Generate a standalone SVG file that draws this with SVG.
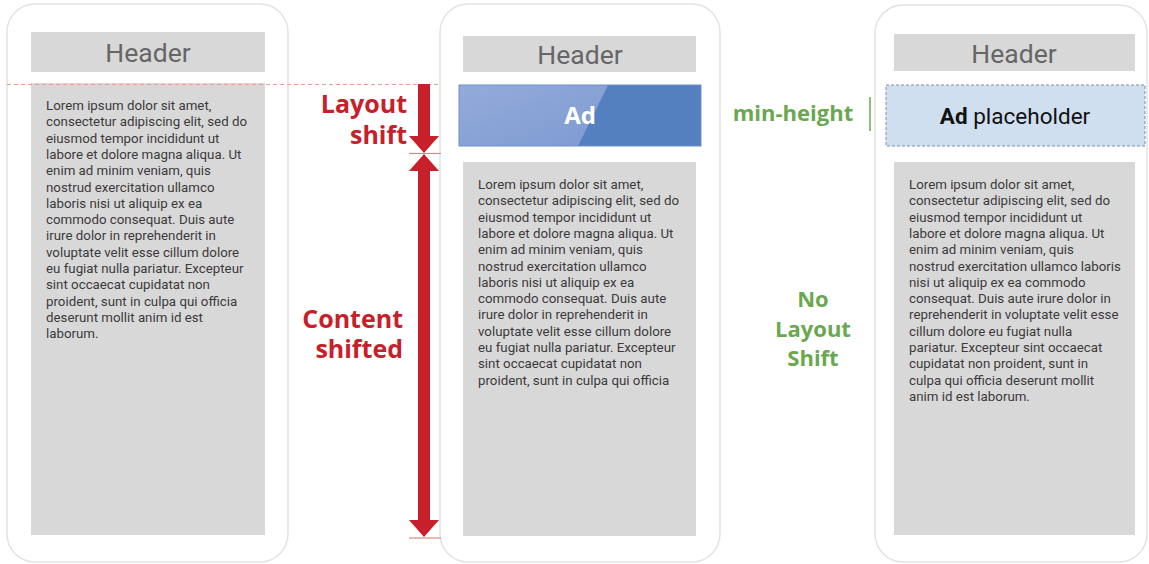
<svg xmlns="http://www.w3.org/2000/svg" width="1149" height="564" viewBox="0 0 1149 564">
  <defs>
    <linearGradient id="adLeft" x1="0" y1="0" x2="1" y2="1">
      <stop offset="0" stop-color="#94aadb"/>
      <stop offset="1" stop-color="#7e9bd1"/>
    </linearGradient>
  </defs>
  <style>
    .phone { fill: #ffffff; stroke: #e3e3e3; stroke-width: 1.5; }
    .block { fill: #d9d8d9; }
    .hdr { font-family: Roboto, "Liberation Sans", sans-serif; font-size: 26.5px; fill: #666666; text-anchor: middle; }
    .body { font-family: Roboto, "Liberation Sans", sans-serif; font-size: 13.3px; fill: #3a3a3a; }
    .red { font-family: "Open Sans", "Liberation Sans", sans-serif; font-weight: 700; font-size: 25px; fill: #c8202a; text-anchor: end; }
    .green { font-family: "Open Sans", "Liberation Sans", sans-serif; font-weight: 700; font-size: 22px; fill: #6aa84f; text-anchor: middle; }
    .shaft { stroke: #c8202a; stroke-width: 12; fill: none; }
    .head { fill: #c8202a; }
    .tick { stroke: #d98a80; stroke-width: 1.2; }
  </style>

  <!-- left phone: ad loads late, content pushed down -->
  <g id="phone-before">
    <rect class="phone" x="7" y="4" width="281" height="558" rx="28"/>
    <rect class="block" x="31" y="32" width="234" height="40"/>
    <text class="hdr" x="148" y="62">Header</text>
    <rect class="block" x="31" y="83" width="234" height="452"/>
    <text class="body" x="46" y="110">
      <tspan x="46" dy="0">Lorem ipsum dolor sit amet,</tspan>
      <tspan x="46" dy="16.3">consectetur adipiscing elit, sed do</tspan>
      <tspan x="46" dy="16.3">eiusmod tempor incididunt ut</tspan>
      <tspan x="46" dy="16.3">labore et dolore magna aliqua. Ut</tspan>
      <tspan x="46" dy="16.3">enim ad minim veniam, quis</tspan>
      <tspan x="46" dy="16.3">nostrud exercitation ullamco</tspan>
      <tspan x="46" dy="16.3">laboris nisi ut aliquip ex ea</tspan>
      <tspan x="46" dy="16.3">commodo consequat. Duis aute</tspan>
      <tspan x="46" dy="16.3">irure dolor in reprehenderit in</tspan>
      <tspan x="46" dy="16.3">voluptate velit esse cillum dolore</tspan>
      <tspan x="46" dy="16.3">eu fugiat nulla pariatur. Excepteur</tspan>
      <tspan x="46" dy="16.3">sint occaecat cupidatat non</tspan>
      <tspan x="46" dy="16.3">proident, sunt in culpa qui officia</tspan>
      <tspan x="46" dy="16.3">deserunt mollit anim id est</tspan>
      <tspan x="46" dy="16.3">laborum.</tspan>
    </text>
  </g>

  <!-- middle phone: ad inserted -->
  <g id="phone-after">
    <rect class="phone" x="440" y="4" width="280" height="558" rx="28"/>
    <rect class="block" x="463" y="36" width="233" height="36"/>
    <text class="hdr" x="580" y="64">Header</text>
    <g id="ad">
      <rect x="459" y="85" width="242" height="61" fill="#5580c0"/>
      <polygon points="459,85 608,85 578,146 459,146" fill="url(#adLeft)"/>
      <rect x="459" y="85" width="242" height="61" fill="none" stroke="#6e90cc" stroke-width="1"/>
      <text x="580" y="124" font-family="'Open Sans', 'Liberation Sans', sans-serif" font-weight="700" font-size="24" fill="#ffffff" text-anchor="middle">Ad</text>
    </g>
    <rect class="block" x="463" y="162" width="233" height="374"/>
    <text class="body" x="478" y="189">
      <tspan x="478" dy="0">Lorem ipsum dolor sit amet,</tspan>
      <tspan x="478" dy="16.3">consectetur adipiscing elit, sed do</tspan>
      <tspan x="478" dy="16.3">eiusmod tempor incididunt ut</tspan>
      <tspan x="478" dy="16.3">labore et dolore magna aliqua. Ut</tspan>
      <tspan x="478" dy="16.3">enim ad minim veniam, quis</tspan>
      <tspan x="478" dy="16.3">nostrud exercitation ullamco</tspan>
      <tspan x="478" dy="16.3">laboris nisi ut aliquip ex ea</tspan>
      <tspan x="478" dy="16.3">commodo consequat. Duis aute</tspan>
      <tspan x="478" dy="16.3">irure dolor in reprehenderit in</tspan>
      <tspan x="478" dy="16.3">voluptate velit esse cillum dolore</tspan>
      <tspan x="478" dy="16.3">eu fugiat nulla pariatur. Excepteur</tspan>
      <tspan x="478" dy="16.3">sint occaecat cupidatat non</tspan>
      <tspan x="478" dy="16.3">proident, sunt in culpa qui officia</tspan>
    </text>
  </g>

  <!-- right phone: space reserved with min-height -->
  <g id="phone-reserved">
    <rect class="phone" x="875" y="5" width="272" height="557" rx="28"/>
    <rect class="block" x="894" y="34" width="241" height="37"/>
    <text class="hdr" x="1014" y="63">Header</text>
    <g id="ad-placeholder">
      <rect x="886" y="85" width="259" height="61" fill="#cfdff0" stroke="#7f8ea8" stroke-width="1" stroke-dasharray="3,2"/>
      <text x="1015" y="124" font-family="Roboto, 'Liberation Sans', sans-serif" font-size="22.5" fill="#111111" text-anchor="middle"><tspan font-weight="700">Ad</tspan> placeholder</text>
    </g>
    <rect class="block" x="894" y="162" width="241" height="373"/>
    <text class="body" x="909" y="189">
      <tspan x="909" dy="0">Lorem ipsum dolor sit amet,</tspan>
      <tspan x="909" dy="16.3">consectetur adipiscing elit, sed do</tspan>
      <tspan x="909" dy="16.3">eiusmod tempor incididunt ut</tspan>
      <tspan x="909" dy="16.3">labore et dolore magna aliqua. Ut</tspan>
      <tspan x="909" dy="16.3">enim ad minim veniam, quis</tspan>
      <tspan x="909" dy="16.3">nostrud exercitation ullamco laboris</tspan>
      <tspan x="909" dy="16.3">nisi ut aliquip ex ea commodo</tspan>
      <tspan x="909" dy="16.3">consequat. Duis aute irure dolor in</tspan>
      <tspan x="909" dy="16.3">reprehenderit in voluptate velit esse</tspan>
      <tspan x="909" dy="16.3">cillum dolore eu fugiat nulla</tspan>
      <tspan x="909" dy="16.3">pariatur. Excepteur sint occaecat</tspan>
      <tspan x="909" dy="16.3">cupidatat non proident, sunt in</tspan>
      <tspan x="909" dy="16.3">culpa qui officia deserunt mollit</tspan>
      <tspan x="909" dy="16.3">anim id est laborum.</tspan>
    </text>
  </g>

  <!-- annotations -->
  <g id="label-layout-shift">
    <text class="red" x="407" y="113">Layout</text>
    <text class="red" x="407" y="144">shift</text>
  </g>
  <g id="label-content-shifted">
    <text class="red" x="403" y="328">Content</text>
    <text class="red" x="403" y="358">shifted</text>
  </g>
  <g id="label-min-height">
    <text class="green" x="793" y="121" font-size="24">min-height</text>
  </g>
  <g id="label-no-shift">
    <text class="green" x="813" y="307">No</text>
    <text class="green" x="813" y="337">Layout</text>
    <text class="green" x="813" y="366">Shift</text>
  </g>

  <!-- connectors: shift arrows, reference ticks, baseline guide -->
  <g id="connectors">
    <line x1="7" y1="84.5" x2="440" y2="84.5" stroke="#e8a184" stroke-width="1.2" stroke-dasharray="4,3"/>
    <!-- layout shift: down arrow from content top to ad bottom -->
    <line class="shaft" x1="424" y1="84" x2="424" y2="138"/>
    <polygon class="head" points="409,136 439,136 424,153"/>
    <line class="tick" x1="409" y1="153.5" x2="441" y2="153.5"/>
    <!-- content shifted: double-headed arrow over full content height -->
    <line class="shaft" x1="424" y1="168" x2="424" y2="523"/>
    <polygon class="head" points="409,171 439,171 424,154"/>
    <polygon class="head" points="409,520 439,520 424,537"/>
    <line class="tick" x1="409" y1="538" x2="441" y2="538"/>
    <line x1="870" y1="97" x2="870" y2="131" stroke="#6aa84f" stroke-width="1.5"/>
  </g>
</svg>
